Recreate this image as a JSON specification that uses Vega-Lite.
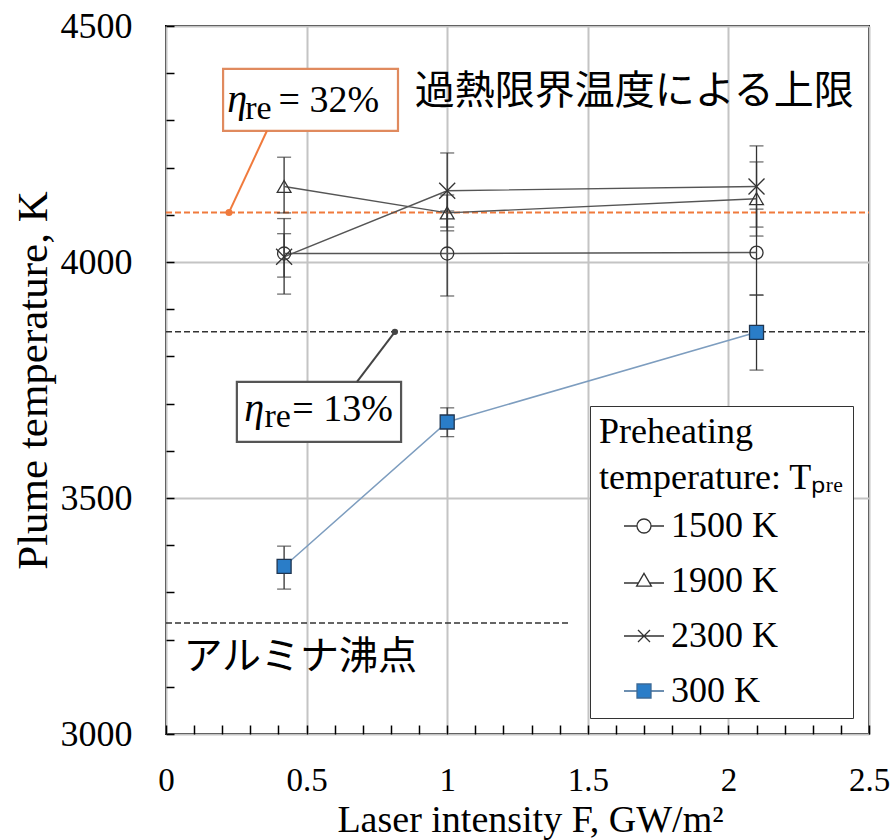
{
  "$schema": "https://vega.github.io/schema/vega-lite/v6.json",
  "width": 703,
  "height": 708,
  "autosize": {"type": "none"},
  "padding": {"left": 166, "top": 26, "right": 27, "bottom": 106},
  "background": "white",
  "config": {
    "view": {"stroke": "black", "strokeWidth": 2},
    "font": "Liberation Serif",
    "axis": {
      "domain": false,
      "gridColor": "#c4c4c4",
      "gridWidth": 2,
      "tickColor": "black",
      "tickWidth": 1.5,
      "labelColor": "black",
      "labelFont": "Liberation Serif",
      "titleFont": "Liberation Serif",
      "titleFontWeight": "normal",
      "titleColor": "black",
      "labelFlush": false,
      "labelOverlap": false,
      "labelBound": false
    },
    "legend": {
      "titleFont": "Liberation Serif",
      "titleFontSize": 36,
      "titleFontWeight": "normal",
      "titleColor": "black",
      "titleLineHeight": 46,
      "titlePadding": 8,
      "titleLimit": 500,
      "labelFont": "Liberation Serif",
      "labelFontSize": 36,
      "labelColor": "black",
      "labelLimit": 300,
      "symbolSize": 1600,
      "symbolStrokeWidth": 1.3,
      "symbolOpacity": 1,
      "symbolOffset": 24,
      "rowPadding": 16,
      "labelOffset": 6,
      "strokeColor": "#333333",
      "fillColor": "white",
      "padding": 9
    }
  },
  "datasets": {
    "pts": [
      {"s": "1500 K", "x": 0.42, "y": 4018, "lo": 3968, "hi": 4060},
      {"s": "1500 K", "x": 1.0, "y": 4018, "lo": 3928, "hi": 4108},
      {"s": "1500 K", "x": 2.1, "y": 4020, "lo": 3930, "hi": 4112},
      {"s": "1900 K", "x": 0.42, "y": 4160, "lo": 4104, "hi": 4222},
      {"s": "1900 K", "x": 1.0, "y": 4104, "lo": 4066, "hi": 4142},
      {"s": "1900 K", "x": 2.1, "y": 4134, "lo": 4055, "hi": 4212},
      {"s": "2300 K", "x": 0.42, "y": 4011, "lo": 3932, "hi": 4092},
      {"s": "2300 K", "x": 1.0, "y": 4151, "lo": 4074, "hi": 4231},
      {"s": "2300 K", "x": 2.1, "y": 4160, "lo": 4074, "hi": 4246},
      {"s": "300 K", "x": 0.42, "y": 3355, "lo": 3307, "hi": 3398},
      {"s": "300 K", "x": 1.0, "y": 3661, "lo": 3630, "hi": 3691},
      {"s": "300 K", "x": 2.1, "y": 3851, "lo": 3771, "hi": 3930}
    ],
    "limit": [{"x": 0, "x2": 2.5, "y": 4105}],
    "levels": [
      {"x": 0, "x2": 2.5, "y": 3852},
      {"x": 0, "x2": 1.44, "y": 3235}
    ],
    "boxOrange": [{"x": 0.203, "x2": 0.825, "y": 4409, "y2": 4278}],
    "boxBlack": [{"x": 0.252, "x2": 0.836, "y": 3746, "y2": 3619}],
    "linkOrange": [{"x": 0.359, "y": 4278, "x2": 0.224, "y2": 4105}],
    "linkBlack": [{"x": 0.679, "y": 3746, "x2": 0.814, "y2": 3852}],
    "eta": [
      {"t": "η", "x": 0.218, "y": 4318},
      {"t": "η", "x": 0.278, "y": 3663}
    ],
    "sub": [
      {"t": "re", "x": 0.282, "y": 4303},
      {"t": "re", "x": 0.350, "y": 3650}
    ],
    "rest": [
      {"t": "= 32%", "x": 0.400, "y": 4318},
      {"t": "= 13%", "x": 0.449, "y": 3663}
    ],
    "jpTop": [{"t": "過熱限界温度による上限", "x": 0.885, "y": 4360}],
    "jpLow": [{"t": "アルミナ沸点", "x": 0.062, "y": 3163}]
  },
  "encoding": {
    "x": {
      "field": "x",
      "type": "quantitative",
      "title": "Laser intensity F, GW/m²",
      "scale": {"domain": [0, 2.5], "nice": false, "zero": false},
      "axis": {
        "values": [0, 0.1, 0.2, 0.3, 0.4, 0.5, 0.6, 0.7, 0.8, 0.9, 1, 1.1, 1.2, 1.3, 1.4, 1.5, 1.6, 1.7, 1.8, 1.9, 2, 2.1, 2.2, 2.3, 2.4, 2.5],
        "labelExpr": "(round(datum.value*10) % 5 === 0) ? format(datum.value, '~g') : ''",
        "gridOpacity": {"condition": {"test": "round(datum.value*10) % 5 === 0", "value": 1}, "value": 0},
        "tickSize": -9,
        "labelFontSize": 33,
        "labelBaseline": "alphabetic",
        "labelPadding": 65,
        "titleFontSize": 38,
        "titleX": 364,
        "titleY": 97,
        "titleBaseline": "alphabetic",
        "titleAlign": "center"
      }
    },
    "y": {
      "field": "y",
      "type": "quantitative",
      "title": "Plume temperature, K",
      "scale": {"domain": [3000, 4500], "nice": false, "zero": false},
      "axis": {
        "values": [3000, 3100, 3200, 3300, 3400, 3500, 3600, 3700, 3800, 3900, 4000, 4100, 4200, 4300, 4400, 4500],
        "labelExpr": "datum.value % 500 === 0 ? format(datum.value, 'd') : ''",
        "gridOpacity": {"condition": {"test": "datum.value % 500 === 0", "value": 1}, "value": 0},
        "tickSize": -8,
        "labelFontSize": 36,
        "labelPadding": 42,
        "titleFontSize": 43,
        "titleX": -133,
        "titleY": 354,
        "titleAngle": -90,
        "titleBaseline": "middle",
        "titleAlign": "center"
      }
    }
  },
  "layer": [
    {
      "data": {"name": "limit"},
      "mark": {"type": "rule", "color": "#f07a3c", "strokeWidth": 2, "strokeDash": [6, 3]},
      "encoding": {"x2": {"field": "x2"}}
    },
    {
      "data": {"name": "levels"},
      "mark": {"type": "rule", "color": "#333333", "strokeWidth": 1.5, "strokeDash": [6, 3]},
      "encoding": {"x2": {"field": "x2"}}
    },
    {
      "data": {"name": "pts"},
      "mark": {"type": "errorbar", "ticks": {"size": 14}, "color": "#333333", "thickness": 1.3},
      "encoding": {
        "y": {"field": "lo", "type": "quantitative", "title": "Plume temperature, K"},
        "y2": {"field": "hi"}
      }
    },
    {
      "data": {"name": "pts"},
      "transform": [{"filter": "datum.s !== '300 K'"}],
      "mark": {"type": "line", "strokeWidth": 1.4, "color": "#555555"},
      "encoding": {
        "detail": {"field": "s", "type": "nominal"},
        "order": {"field": "x", "type": "quantitative"}
      }
    },
    {
      "data": {"name": "pts"},
      "transform": [{"filter": "datum.s === '300 K'"}],
      "mark": {"type": "line", "strokeWidth": 1.5, "color": "#7d9dbf"},
      "encoding": {
        "order": {"field": "x", "type": "quantitative"}
      }
    },
    {
      "data": {"name": "pts"},
      "transform": [{"filter": "datum.s === '1500 K'"}],
      "mark": {"type": "point", "shape": "circle", "size": 170, "stroke": "#333333", "strokeWidth": 1.3, "filled": false, "opacity": 1}
    },
    {
      "data": {"name": "pts"},
      "transform": [{"filter": "datum.s === '1900 K'"}],
      "mark": {"type": "point", "shape": "triangle-up", "size": 190, "stroke": "#333333", "strokeWidth": 1.3, "filled": false, "opacity": 1}
    },
    {
      "data": {"name": "pts"},
      "transform": [{"filter": "datum.s === '2300 K'"}],
      "mark": {"type": "point", "shape": "M-1,-1L1,1M-1,1L1,-1", "size": 256, "stroke": "#333333", "strokeWidth": 1.3, "filled": false, "opacity": 1}
    },
    {
      "data": {"name": "pts"},
      "transform": [{"filter": "datum.s === '300 K'"}],
      "mark": {"type": "point", "shape": "square", "size": 196, "stroke": "#1f3550", "strokeWidth": 1.3, "fill": "#2a7dc8", "filled": true, "opacity": 1}
    },
    {
      "data": {"name": "boxOrange"},
      "mark": {"type": "rect", "fill": "white", "stroke": "#e08a5e", "strokeWidth": 2.2},
      "encoding": {"x2": {"field": "x2"}, "y2": {"field": "y2"}}
    },
    {
      "data": {"name": "boxBlack"},
      "mark": {"type": "rect", "fill": "white", "stroke": "#555555", "strokeWidth": 2.2},
      "encoding": {"x2": {"field": "x2"}, "y2": {"field": "y2"}}
    },
    {
      "data": {"name": "linkOrange"},
      "mark": {"type": "rule", "color": "#f07a3c", "strokeWidth": 2},
      "encoding": {"x2": {"field": "x2"}, "y2": {"field": "y2"}}
    },
    {
      "data": {"name": "linkOrange"},
      "mark": {"type": "point", "filled": true, "color": "#f07a3c", "size": 50, "opacity": 1},
      "encoding": {"x": {"field": "x2", "type": "quantitative"}, "y": {"field": "y2", "type": "quantitative"}}
    },
    {
      "data": {"name": "linkBlack"},
      "mark": {"type": "rule", "color": "#444444", "strokeWidth": 2},
      "encoding": {"x2": {"field": "x2"}, "y2": {"field": "y2"}}
    },
    {
      "data": {"name": "linkBlack"},
      "mark": {"type": "point", "filled": true, "color": "#444444", "size": 40, "opacity": 1},
      "encoding": {"x": {"field": "x2", "type": "quantitative"}, "y": {"field": "y2", "type": "quantitative"}}
    },
    {
      "data": {"name": "eta"},
      "mark": {"type": "text", "font": "Liberation Serif", "fontStyle": "italic", "fontSize": 40, "align": "left", "baseline": "alphabetic", "color": "black"},
      "encoding": {"text": {"field": "t"}}
    },
    {
      "data": {"name": "sub"},
      "mark": {"type": "text", "font": "Liberation Serif", "fontSize": 34, "align": "left", "baseline": "alphabetic", "color": "black"},
      "encoding": {"text": {"field": "t"}}
    },
    {
      "data": {"name": "rest"},
      "mark": {"type": "text", "font": "Liberation Serif", "fontSize": 38, "align": "left", "baseline": "alphabetic", "color": "black"},
      "encoding": {"text": {"field": "t"}}
    },
    {
      "data": {"name": "jpTop"},
      "mark": {"type": "text", "font": "Noto Sans CJK JP", "fontSize": 40, "align": "left", "baseline": "middle", "color": "black"},
      "encoding": {"text": {"field": "t"}}
    },
    {
      "data": {"name": "jpLow"},
      "mark": {"type": "text", "font": "Noto Sans CJK JP", "fontSize": 39, "align": "left", "baseline": "middle", "color": "black"},
      "encoding": {"text": {"field": "t"}}
    },
    {
      "data": {"name": "pts"},
      "mark": {"type": "point", "size": 1600, "strokeWidth": 1.3, "clip": true, "opacity": 1},
      "encoding": {
        "xOffset": {"value": 3000},
        "shape": {
          "field": "s",
          "type": "nominal",
          "scale": {
            "domain": ["1500 K", "1900 K", "2300 K", "300 K"],
            "range": [
              "M-1,0L-0.35,0M0.35,0L1,0M-0.35,0A0.35,0.35,0,1,1,0.35,0A0.35,0.35,0,1,1,-0.35,0Z",
              "M-1,0.1L-0.28,0.1M0.28,0.1L1,0.1M0,-0.38L0.37,0.26L-0.37,0.26Z",
              "M-1,0L1,0M-0.3,-0.3L0.3,0.3M-0.3,0.3L0.3,-0.3",
              "M-1,0L-0.35,0M0.35,0L1,0M-0.35,-0.35L0.35,-0.35L0.35,0.35L-0.35,0.35Z"
            ]
          },
          "legend": {"title": ["Preheating", "temperature: Tₚᵣₑ"], "orient": "bottom-right", "offset": 16}
        },
        "fill": {
          "field": "s",
          "type": "nominal",
          "scale": {"domain": ["1500 K", "1900 K", "2300 K", "300 K"], "range": ["white", "white", "white", "#2a7dc8"]},
          "legend": {"title": ["Preheating", "temperature: Tₚᵣₑ"], "orient": "bottom-right", "offset": 16}
        },
        "stroke": {
          "field": "s",
          "type": "nominal",
          "scale": {"domain": ["1500 K", "1900 K", "2300 K", "300 K"], "range": ["#333333", "#333333", "#333333", "#3d6a96"]},
          "legend": {"title": ["Preheating", "temperature: Tₚᵣₑ"], "orient": "bottom-right", "offset": 16}
        }
      }
    }
  ]
}
